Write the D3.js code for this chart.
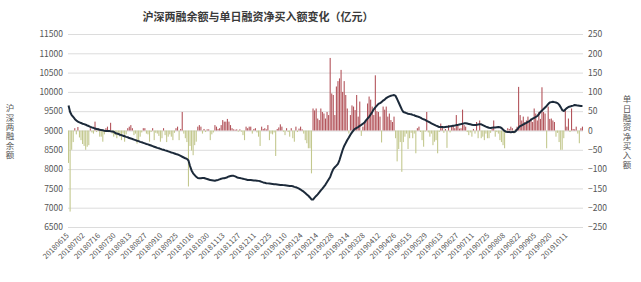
<!DOCTYPE html>
<html>
<head>
<meta charset="utf-8">
<script src="https://cdn.jsdelivr.net/npm/d3@7"></script>
<style>
	body { margin: 0; background: #fff; }
	svg { display: block; }
	text { font-family: "Noto Sans CJK SC", "Noto Sans", sans-serif; }
</style>
</head>
<body>
<svg width="641" height="282"></svg>
<script>
// 两融余额 (left axis), one value per trading day
var balance = [
	9650, 9480, 9400, 9350, 9300, 9260, 9230, 9210, 9195, 9175,
	9165, 9150, 9130, 9115, 9095, 9080, 9070, 9050, 9040, 9030,
	9020, 9010, 9005, 8995, 8990, 8985, 8990, 8980, 8975, 8970,
	8935, 8920, 8910, 8890, 8880, 8865, 8850, 8835, 8825, 8805,
	8795, 8780, 8765, 8750, 8735, 8725, 8705, 8695, 8680, 8665,
	8650, 8640, 8625, 8610, 8595, 8580, 8565, 8550, 8540, 8525,
	8510, 8500, 8485, 8475, 8460, 8445, 8430, 8420, 8405, 8390,
	8380, 8360, 8340, 8320, 8300, 8280, 8265, 8225, 8080, 7965,
	7890, 7845, 7800, 7770, 7760, 7765, 7770, 7770, 7755, 7745,
	7730, 7715, 7710, 7705, 7700, 7710, 7720, 7735, 7750, 7760,
	7765, 7775, 7790, 7810, 7820, 7830, 7825, 7810, 7790, 7775,
	7770, 7760, 7750, 7740, 7730, 7720, 7715, 7715, 7710, 7705,
	7705, 7700, 7695, 7685, 7670, 7655, 7645, 7635, 7630, 7625,
	7620, 7615, 7610, 7605, 7600, 7595, 7590, 7590, 7585, 7580,
	7575, 7570, 7565, 7565, 7555, 7540, 7530, 7515, 7495, 7470,
	7440, 7415, 7380, 7345, 7310, 7265, 7215, 7210, 7260, 7305,
	7345, 7395, 7450, 7495, 7545, 7600, 7665, 7730, 7795, 7910,
	8000, 8050, 8090, 8135, 8235, 8365, 8495, 8600, 8675, 8755,
	8820, 8890, 8950, 9005, 9045, 9070, 9090, 9120, 9145, 9175,
	9205, 9260, 9310, 9355, 9415, 9480, 9550, 9600, 9645, 9690,
	9710, 9735, 9775, 9800, 9840, 9865, 9885, 9900, 9910, 9920,
	9895, 9815, 9725, 9635, 9545, 9480, 9465, 9450, 9435, 9425,
	9420, 9405, 9395, 9375, 9365, 9350, 9335, 9310, 9290, 9275,
	9250, 9230, 9210, 9185, 9165, 9145, 9125, 9110, 9090, 9090,
	9090, 9085, 9090, 9095, 9100, 9110, 9115, 9125, 9130, 9140,
	9145, 9155, 9165, 9175, 9185, 9190, 9180, 9170, 9160, 9150,
	9140, 9140, 9145, 9155, 9165, 9160, 9140, 9120, 9100, 9085,
	9070, 9065, 9070, 9075, 9080, 9085, 9090, 9085, 9065, 9025,
	8990, 8965, 8960, 8960, 8955, 8960, 8960, 8975, 9025, 9075,
	9115, 9135, 9155, 9180, 9200, 9225, 9245, 9280, 9305, 9325,
	9350, 9375, 9425, 9480, 9515, 9555, 9595, 9635, 9685, 9725,
	9735, 9745, 9735, 9725, 9710, 9670, 9605, 9530, 9505, 9545,
	9580, 9610, 9620, 9635, 9645, 9660, 9655, 9645, 9640, 9635, 9635
];

// 单日融资净买入额 (right axis)
var netBuy = [
	-84, -210, -50, -30, 6, -10, 9, -18, -25, -35,
	-40, -50, -42, -38, 6, -5, -8, 23, -4, 6,
	-16, -16, -29, -10, 6, 10, -5, 20, -8, -16,
	-12, -20, -6, -16, -25, -8, -29, -10, 6, 10,
	14, 6, -12, -8, -34, -25, -16, -5, 6, 6,
	-8, -10, -29, -4, 6, -25, -6, -8, -14, -29,
	-20, 6, -12, -30, -16, -10, -16, -25, -6, 6,
	10, -25, 4, 48, -8, -20, -30, -145, -40, -52,
	-64, -38, -29, 10, 14, 10, -8, 4, -4, 3,
	3, -25, -10, -5, 14, 10, 4, 6, 14, 27,
	23, 23, 30, 23, 14, 6, 3, 2, 3, -3,
	3, -3, -12, -25, 10, 6, 10, 10, -8, 4,
	6, -5, -16, -40, 10, 4, 6, 3, 14, -25,
	-8, -10, -5, -66, 4, 8, 16, 10, -3, -12,
	6, -4, -16, 6, -20, -29, 10, -4, 5, 10,
	3, -8, -25, -33, -46, -46, -111, 57, 52, 57,
	31, 27, 57, 48, 44, 31, 48, 40, 188, 96,
	92, 40, 114, 128, 135, 157, 100, 128, 92, 57,
	-8, 40, 65, 62, 53, 92, 36, 75, -14, 10,
	18, 25, 70, 88, 80, 62, 40, 143, 50, 48,
	36, -31, 62, 54, 62, 36, 44, 27, 22, 36,
	-20, -80, -48, -30, -107, -30, -16, -8, -48, -20,
	-6, -20, -8, -59, 6, 10, -4, -25, -42, -3,
	48, -5, -16, -8, -38, -29, -25, -59, -4, 18,
	10, -6, 4, -45, 14, -5, 10, 14, 6, 40,
	14, 5, 6, 54, 14, 10, -4, -12, -5, -16,
	4, -8, 22, -20, 26, -20, -16, -25, -8, -20,
	-20, -6, 4, 26, -16, -4, -8, -25, -30, -38,
	-46, -4, 6, 4, 10, 6, -8, 3, 10, 113,
	40, 26, 36, 22, 26, 36, 22, 31, 22, 57,
	44, 26, 48, 30, 112, 48, 44, -46, 62, 30,
	31, 26, 22, -16, -6, -30, -50, -50, -20, 54,
	10, 31, -4, 57, 4, 3, 10, -8, -33, 6, 10
];

// one label every 10 trading days
var xLabels = ["20180615", "20180702", "20180716", "20180730", "20180813", "20180827",
	"20180910", "20180925", "20181016", "20181030", "20181113", "20181127", "20181211",
	"20181225", "20190110", "20190124", "20190214", "20190228", "20190314", "20190328",
	"20190412", "20190426", "20190515", "20190529", "20190613", "20190627", "20190711",
	"20190725", "20190808", "20190822", "20190905", "20190920", "20191011"];
var labelStep = 10;

var leftTicks = [6500, 7000, 7500, 8000, 8500, 9000, 9500, 10000, 10500, 11000, 11500];
var rightTicks = [-250, -200, -150, -100, -50, 0, 50, 100, 150, 200, 250];

var title = "沪深两融余额与单日融资净买入额变化（亿元）";
var leftTitle = "沪深两融余额";
var rightTitle = "单日融资净买入额";

var svg = d3.select("svg"),
	plotL = 68, plotR = 583, plotT = 34, plotB = 227; // "top" is taken by window

var x = d3.scaleBand()
	.domain(d3.range(balance.length))
	.range([plotL, plotR])
	.paddingInner(0.3);
var yL = d3.scaleLinear().domain([6500, 11500]).range([plotB, plotT]);
var yR = d3.scaleLinear().domain([-250, 250]).range([plotB, plotT]);

// title
svg.append("text")
	.attr("x", 258)
	.attr("y", 21)
	.attr("text-anchor", "middle")
	.style("font-size", "11px")
	.style("font-weight", "bold")
	.style("fill", "#3a3a3a")
	.text(title);

// gridlines + left labels
var gl = svg.append("g")
	.attr("transform", "translate(" + plotL + ",0)")
	.call(d3.axisLeft(yL).tickValues(leftTicks).tickFormat(d3.format("d"))
		.tickSize(-(plotR - plotL)).tickPadding(5));
gl.select(".domain").remove();
gl.selectAll(".tick line").attr("stroke", "#dcdcdc");
gl.selectAll(".tick text").style("font-size", "8.5px").style("fill", "#555");

// right labels
var gr = svg.append("g")
	.attr("transform", "translate(" + plotR + ",0)")
	.call(d3.axisRight(yR).tickValues(rightTicks).tickFormat(d3.format("d"))
		.tickSize(0).tickPadding(5));
gr.select(".domain").remove();
gr.selectAll(".tick text").style("font-size", "8.5px").style("fill", "#555");

// bars
svg.append("g").selectAll("rect")
	.data(netBuy)
	.enter().append("rect")
	.attr("x", function(d, i) { return x(i); })
	.attr("width", x.bandwidth())
	.attr("y", function(d) { return d >= 0 ? yR(d) : yR(0); })
	.attr("height", function(d) { return Math.abs(yR(d) - yR(0)); })
	.attr("fill", function(d) { return d >= 0 ? "#b3545b" : "#c3c88e"; });

// balance line
var line = d3.line()
	.x(function(d, i) { return x(i) + x.bandwidth() / 2; })
	.y(function(d) { return yL(d); });
svg.append("path")
	.datum(balance)
	.attr("d", line)
	.attr("fill", "none")
	.attr("stroke", "#1c2a3a")
	.attr("stroke-width", 2)
	.attr("stroke-linejoin", "round");

// rotated date labels
svg.append("g").selectAll("text")
	.data(xLabels)
	.enter().append("text")
	.attr("transform", function(d, i) {
		var cx = x(i * labelStep) + x.bandwidth() / 2;
		return "translate(" + (cx + 1) + ",236) rotate(-45)";
	})
	.attr("text-anchor", "end")
	.style("font-size", "7.5px")
	.style("fill", "#555")
	.text(function(d) { return d; });

// vertical axis titles, upright chars stacked top to bottom
function vtitle(str, cx, y0) {
	svg.append("text")
		.attr("x", cx)
		.attr("y", y0)
		.style("writing-mode", "vertical-rl")
		.style("text-orientation", "upright")
		.style("letter-spacing", "0.8px")
		.style("font-size", "8.5px")
		.style("fill", "#555")
		.text(str);
}
vtitle(leftTitle, 10, 104);
vtitle(rightTitle, 627, 95);
</script>
</body>
</html>
